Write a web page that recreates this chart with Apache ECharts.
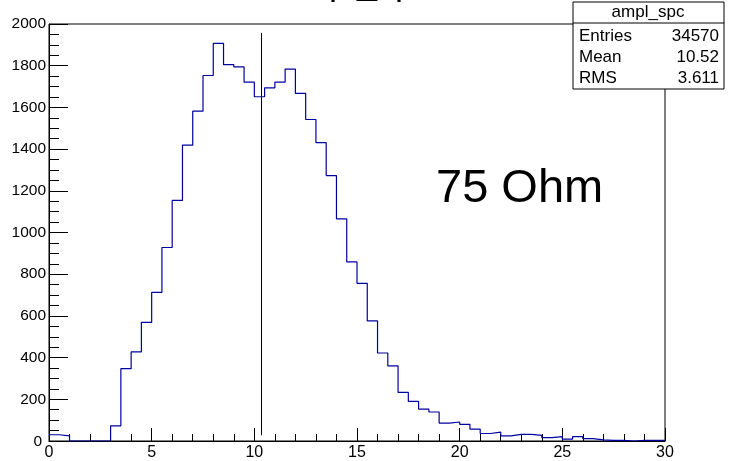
<!DOCTYPE html>
<html>
<head>
<meta charset="utf-8">
<script src="https://cdn.jsdelivr.net/npm/echarts@6/dist/echarts.min.js"></script>
<style>
html,body{margin:0;padding:0;background:#fff;}
#chart{width:732px;height:461px;}
</style>
</head>
<body>
<div id="chart"></div>
<script>
// Histogram "ampl_spc": 60 bins of width 0.5 from 0 to 30
var binLow = 0;
var binWidth = 0.5;
var counts = [30,25,0,0,0,0,73,347,427,569,713,928,1154,1419,1582,1753,1907,1805,1794,1721,
              1651,1694,1721,1784,1667,1542,1431,1273,1065,859,756,576,422,360,233,190,153,139,86,91,
              80,57,36,43,25,32,32,27,16,21,9,21,11,5,3,3,0,3,3,3];
var meanLine = [[10.35, 27], [10.35, 1957]];
var histTitle = 'ampl_spc';
var statsLabels = ['Entries', 'Mean', 'RMS'];
var statsValues = ['34570', '10.52', '3.611'];
var annotation = '75 Ohm';

var histData = counts.map(function (c, i) { return [binLow + i * binWidth, c]; });
histData.push([binLow + counts.length * binWidth, counts[counts.length - 1]]);

var FONT = '"Liberation Sans", Arial, Helvetica, sans-serif';
var chart = echarts.init(document.getElementById('chart'), null, {renderer: 'canvas'});

var statsGraphics = [
  {type: 'rect', shape: {x: 573, y: 2, width: 151, height: 87}, style: {fill: '#fff', stroke: '#000', lineWidth: 1}, z: 10},
  {type: 'line', shape: {x1: 573, y1: 23, x2: 724, y2: 23}, style: {stroke: '#000', lineWidth: 1}, z: 11},
  {type: 'text', x: 648, y: 12, z: 11, style: {text: histTitle, font: '17px ' + FONT, fill: '#000', textAlign: 'center', textVerticalAlign: 'middle'}}
];
statsLabels.forEach(function (lab, i) {
  var yy = 36 + i * 21;
  statsGraphics.push({type: 'text', x: 579, y: yy, z: 11, style: {text: lab, font: '17px ' + FONT, fill: '#000', textAlign: 'left', textVerticalAlign: 'middle'}});
  statsGraphics.push({type: 'text', x: 719, y: yy, z: 11, style: {text: statsValues[i], font: '17px ' + FONT, fill: '#000', textAlign: 'right', textVerticalAlign: 'middle'}});
});
statsGraphics.push({type: 'text', x: 436, y: 189, z: 11, style: {text: annotation, font: '47px ' + FONT, fill: '#000', textAlign: 'left', textVerticalAlign: 'middle'}});

chart.setOption({
  animation: false,
  backgroundColor: '#fff',
  grid: {left: 49, right: 67, top: 24, bottom: 19, show: true, borderColor: '#000', borderWidth: 1, backgroundColor: 'transparent'},
  xAxis: {
    type: 'value', min: 0, max: 30, interval: 5,
    axisLine: {show: true, lineStyle: {color: '#000', width: 1}},
    axisTick: {show: true, inside: true, length: 13, lineStyle: {color: '#000'}},
    minorTick: {show: true, splitNumber: 5, length: 7, lineStyle: {color: '#000'}},
    splitLine: {show: false},
    axisLabel: {color: '#000', fontSize: 16, fontFamily: FONT, margin: 4}
  },
  yAxis: {
    type: 'value', min: 0, max: 2000, interval: 200,
    axisLine: {show: true, lineStyle: {color: '#000', width: 1}},
    axisTick: {show: true, inside: true, length: 19, lineStyle: {color: '#000'}},
    minorTick: {show: true, splitNumber: 4, length: 10, lineStyle: {color: '#000'}},
    splitLine: {show: false},
    axisLabel: {
      color: '#000', fontSize: 15.5, fontFamily: FONT, margin: 3,
      formatter: function (v) { return v === 0 ? '{z|0}' : String(v); },
      rich: {z: {fontSize: 15.5, fontFamily: FONT, color: '#000', padding: [2, 4, 0, 0]}}
    }
  },
  series: [
    {
      type: 'line', data: histData, step: 'end', symbol: 'none',
      lineStyle: {color: '#0000a0', width: 1.2}, z: 3
    },
    {
      type: 'line', data: meanLine, symbol: 'none',
      lineStyle: {color: '#000', width: 1}, z: 4
    }
  ],
  graphic: statsGraphics.concat([
    {type: 'text', x: 356, y: 2, z: 11, style: {text: histTitle, font: '36px ' + FONT, fill: '#000', textAlign: 'center', textVerticalAlign: 'bottom'}}
  ])
});
</script>
</body>
</html>
